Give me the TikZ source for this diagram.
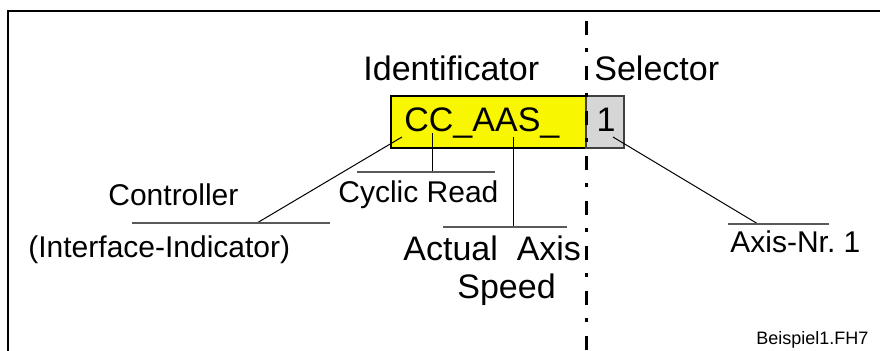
\documentclass[tikz,border=0pt]{standalone}
\usepackage{fontspec}
\setmainfont{Liberation Sans}
\usetikzlibrary{positioning}
\definecolor{idyellow}{RGB}{248,246,0}
\definecolor{selgray}{RGB}{214,214,214}
\tikzset{
  bigtxt/.style={font=\fontsize{17}{20}\selectfont, inner sep=0pt, anchor=base west},
  midtxt/.style={font=\fontsize{15}{18}\selectfont, inner sep=0pt, anchor=base west},
  leader/.style={line width=0.5pt},
  baseline rule/.style={line width=0.6pt, draw=black!65},
  field/.style={draw, line width=0.6pt, inner sep=0pt, minimum height=26pt},
}

\begin{document}
\begin{tikzpicture}[x=0.5pt,y=-0.5pt]
  \useasboundingbox (0,0) rectangle (880,351);
  % Frame, only top and left edge shown
  \draw[line width=1pt] (7.5,351) -- (7.5,11) -- (880,11);

  % Fields: identificator and selector
  \node (ident) [field, fill=idyellow, minimum width=97.5pt] at (488.5,122) {};
  \node (sel) [field, draw=black!75, fill=selgray, minimum width=19pt] at (605,122) {};

  % Headings and field contents
  \node (idhead) [bigtxt] at (363,81) {Identificator};
  \node (selhead) [bigtxt] at (594,81) {Selector};
  \node (idtext) [bigtxt] at (404,132) {CC\_AAS\_};
  \node (seltext) [bigtxt, anchor=base] at (606,132) {1};

  % Meaning of the parts
  \node (ctrl) [midtxt] at (108,206) {Controller};
  \node (iface) [midtxt] at (28,258) {(Interface-Indicator)};
  \node (cyclic) [midtxt] at (338,203) {Cyclic Read};
  \node (actual) [bigtxt] at (403,261) {Actual~~Axis};
  \node (speed) [bigtxt] at (457,299) {Speed};
  \node (axisnr) [midtxt] at (730,253) {Axis-Nr.\ 1};
  \node (fname) [font=\fontsize{9}{11}\selectfont, inner sep=0pt, anchor=base west] at (756,345) {Beispiel1.FH7};

  % Leader ends: start in the field, end on the rule
  \coordinate (ctrlA) at (402,137);  \coordinate (ctrlB) at (257,223);
  \coordinate (cycA) at (432,133);   \coordinate (cycB) at (432,172);
  \coordinate (actA) at (513,137);   \coordinate (actB) at (513,227);
  \coordinate (axA) at (613,137);    \coordinate (axB) at (758,224);

  % Rules above the labels
  \coordinate (ctrlL) at (132,223);  \coordinate (ctrlR) at (330,223);
  \coordinate (cycL) at (357,172);   \coordinate (cycR) at (495,172);
  \coordinate (actL) at (443,227);   \coordinate (actR) at (567,227);
  \coordinate (axL) at (728,224);    \coordinate (axR) at (829,224);

  \foreach \p in {ctrl, cyc, act, ax} {
    \draw[leader] (\p A) -- (\p B);
    \draw[baseline rule] (\p L) -- (\p R); }

  % Separator between identificator and selector
  \coordinate (sepT) at (586,21);
  \coordinate (sepB) at (586,351);
  \draw[line width=1.5pt, dash pattern=on 7pt off 6.5pt on 2pt off 7pt] (sepT) -- (sepB);
\end{tikzpicture}
\end{document}
